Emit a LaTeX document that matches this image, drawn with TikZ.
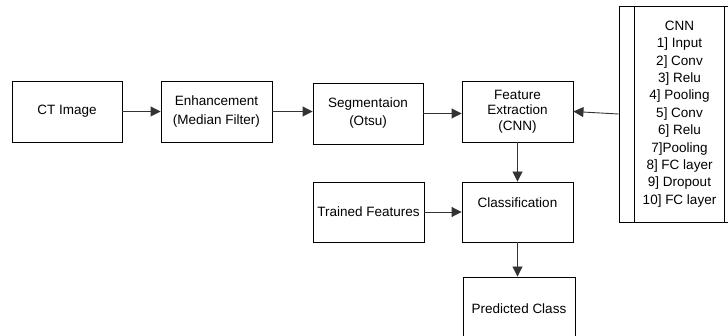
\documentclass[tikz,border=0pt]{standalone}
\usepackage{fontspec}
\setmainfont{Liberation Sans}
\usetikzlibrary{arrows.meta}
\begin{document}
\begin{tikzpicture}[x=1pt,y=-1pt,
  box/.style={draw, line width=0.9pt, inner sep=0pt, align=center, font=\fontsize{13.5}{18}\selectfont},
  arr/.style={-{Triangle[length=10pt,width=10pt]}, line width=0.9pt, draw=black!80}]
\useasboundingbox (0,0) rectangle (728,336);
\node[box, minimum width=110, minimum height=61] (ct) at (67,111.5) {CT Image};
\node[box, minimum width=111, minimum height=61, font=\fontsize{13.5}{19}\selectfont] (enh) at (216.5,111.5) {Enhancement\\(Median Filter)};
\node[box, minimum width=110, minimum height=61] (seg) at (368,113.5) {Segmentaion\\(Otsu)};
\node[box, minimum width=111, minimum height=61, font=\fontsize{13.5}{15.7}\selectfont] (feat) at (517.5,111.5) {Feature\\Extraction\\(CNN)};
\node[box, minimum width=111, minimum height=60] (cls) at (517.5,212) {Classification\\\mbox{}};
\node[box, minimum width=111, minimum height=60] (tr) at (368.5,212) {Trained Features};
\node[box, minimum width=112, minimum height=63] (pred) at (519,308.5) {Predicted Class};
\node[box, minimum width=121, minimum height=216, font=\fontsize{13.5}{17.4}\selectfont] (cnn) at (679.5,114) {CNN\\1] Input\\2] Conv\\3] Relu\\4] Pooling\\5] Conv\\6] Relu\\7]Pooling\\8] FC layer\\9] Dropout\\10] FC layer};
\draw[line width=0.9pt] ([xshift=16pt]cnn.north west) -- ([xshift=16pt]cnn.south west);
\draw[line width=0.9pt] ([xshift=-16pt]cnn.north east) -- ([xshift=-16pt]cnn.south east);
\draw[arr] (ct) -- (enh);
\draw[arr] (enh.east) -- (enh.east -| seg.west);
\draw[arr] (seg.east) -- (seg.east -| feat.west);
\draw[arr] (cnn.west) -- (feat.east);
\draw[arr] (feat.south) -- (cls.north);
\draw[arr] (tr.east) -- (tr.east -| cls.west);
\draw[arr] (cls.south) -- (cls.south |- pred.north);
\end{tikzpicture}
\end{document}
